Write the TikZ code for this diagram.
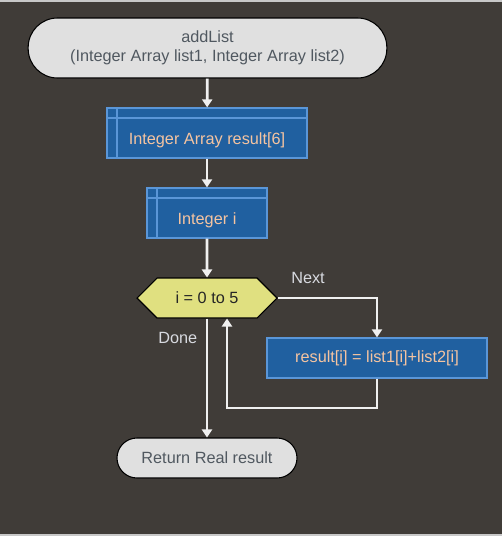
\documentclass[tikz,border=0pt]{standalone}
\usepackage{fontspec}
\setmainfont{Liberation Sans}
\usepackage{tikz}
\usetikzlibrary{arrows.meta,shapes.symbols,positioning}

\definecolor{bgdark}{HTML}{403C38}
\definecolor{stripgray}{HTML}{C8C8C8}
\definecolor{termfill}{HTML}{E0E0E0}
\definecolor{termtext}{HTML}{505860}
\definecolor{declfill}{HTML}{2060A0}
\definecolor{declline}{HTML}{5A96D8}
\definecolor{decltext}{HTML}{F5C4A0}
\definecolor{loopfill}{HTML}{E0E080}
\definecolor{flowline}{HTML}{F0F0F0}
\definecolor{labeltext}{HTML}{D8DAE0}

\begin{document}
\begin{tikzpicture}[x=0.75pt,y=0.75pt,yscale=-1,xscale=1,
  every node/.style={font=\fontsize{12.2}{14.25}\selectfont},
  terminal/.style={draw=black, line width=0.8pt, fill=termfill, text=termtext,
    rounded corners=#1, align=center},
  declbox/.style={draw=declline, line width=0.9pt, fill=declfill, text=decltext,
    minimum height=37.5pt, text height=19pt, text depth=2.5pt,
    path picture={
      \draw[declline, line width=0.9pt]
        ([xshift=7.5pt]path picture bounding box.north west) --
        ([xshift=7.5pt]path picture bounding box.south west);
      \draw[declline, line width=0.9pt]
        ([yshift=-7.5pt]path picture bounding box.north west) --
        ([yshift=-7.5pt]path picture bounding box.north east);}},
  procbox/.style={draw=declline, line width=0.9pt, fill=declfill, text=decltext,
    minimum height=30pt},
  loopbox/.style={signal, signal to=east and west, signal pointer angle=90,
    draw=black, line width=0.8pt, fill=loopfill, text=black!85,
    minimum width=105pt, minimum height=30pt, inner sep=0pt},
  flow/.style={draw=flowline, line width=2pt,
    -{Triangle[width=7.5pt,length=6pt]}},
  flowlabel/.style={text=labeltext, anchor=north west, inner sep=0.75pt}]

  % background and frame strips
  \fill[bgdark] (0,0) rectangle (502,536);
  \fill[stripgray] (0,0) rectangle (502,2);
  \fill[stripgray] (0,534) rectangle (502,536);
  \useasboundingbox (0,0) rectangle (502,536);

  % Start
  \node[terminal=22pt, minimum width=269pt, minimum height=45pt] (start) at (207.5,48)
    {addList\\(Integer Array list1, Integer Array list2)};
  % Declarations
  \node[declbox, minimum width=150pt] (result) at (207,133) {Integer Array result[6]};
  \node[declbox, minimum width=90pt] (index) at (207,213) {Integer i};
  % For loop
  \node[loopbox] (forloop) at (207,298) {i = 0 to 5};
  % Assignment
  \node[procbox, minimum width=165pt] (assign) at (377,358) {result[i] = list1[i]+list2[i]};
  % End
  \node[terminal=15pt, minimum width=135pt, minimum height=30pt] (ret) at (207,458)
    {Return Real result};

  % Labels
  \node[flowlabel] (next) at (290,271) {Next};
  \node[flowlabel] (done) at (157,331) {Done};

  % Connectors
  \draw[flow] (start) -- (result);
  \draw[flow] (result) -- (index);
  \draw[flow] (index) -- (forloop);
  \draw[flow] (forloop.east) -| (assign.north);
  \coordinate (back) at (227,408);
  \draw[flow] (assign.south) |- (back) -- (back |- forloop.south);
  \draw[flow] (forloop.south) -- (ret.north);

\end{tikzpicture}
\end{document}
